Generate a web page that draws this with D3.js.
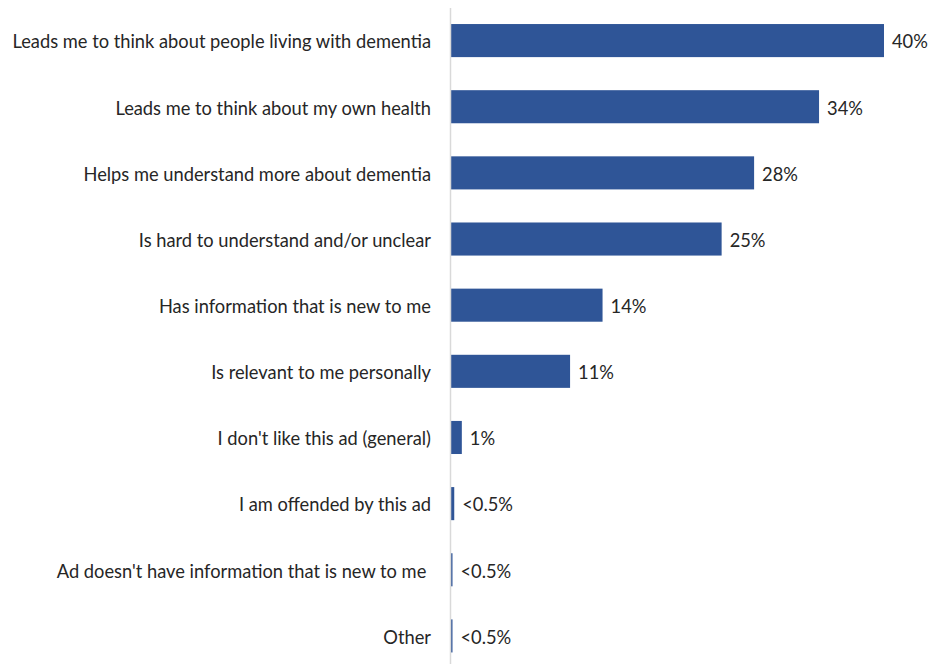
<!DOCTYPE html>
<html>
<head>
<meta charset="utf-8">
<script src="https://cdn.jsdelivr.net/npm/d3@7"></script>
<style>
  html, body { margin: 0; padding: 0; background: #fff; }
  svg { display: block; }
  text { font-family: Lato, "Open Sans", sans-serif; fill: #262626; white-space: pre; }
</style>
</head>
<body>
<svg id="chart" width="930" height="664"></svg>
<script>
// Responses to the ad, share of respondents (%)
const categories = [
  "Leads me to think about people living with dementia",
  "Leads me to think about my own health",
  "Helps me understand more about dementia",
  "Is hard to understand and/or unclear",
  "Has information that is new to me",
  "Is relevant to me personally",
  "I don't like this ad (general)",
  "I am offended by this ad",
  "Ad doesn't have information that is new to me ",
  "Other"
];
const values = [40, 34, 28, 25, 14, 11, 1, 0.3, 0.1, 0.1];
const valueLabels = ["40%", "34%", "28%", "25%", "14%", "11%", "1%", "<0.5%", "<0.5%", "<0.5%"];

const svg = d3.select("#chart");
const axisX = 450.5;
const fontSize = 18.3;

const x = d3.scaleLinear().domain([0, 40]).range([axisX + 0.5, 884]);
const y = d3.scaleBand().domain(categories).range([7.5, 669]).paddingInner(0.5).paddingOuter(0.25);

// Bars
svg.append("g").selectAll("rect")
  .data(values)
  .join("rect")
  .attr("x", x(0))
  .attr("y", (d, i) => y(categories[i]))
  .attr("width", d => Math.max(1.5, x(d) - x(0)))
  .attr("height", y.bandwidth())
  .attr("fill", "#2F5597");

// Vertical category axis line
svg.append("line")
  .attr("x1", axisX).attr("x2", axisX)
  .attr("y1", 8).attr("y2", 664)
  .attr("stroke", "#d9d9d9").attr("stroke-width", 1.5);

// Category labels
svg.append("g").selectAll("text")
  .data(categories)
  .join("text")
  .attr("x", 431)
  .attr("y", d => y(d) + y.bandwidth() / 2)
  .attr("dy", "0.43em")
  .attr("text-anchor", "end")
  .attr("font-size", fontSize)
  .text(d => d);

// Value labels
svg.append("g").selectAll("text")
  .data(values)
  .join("text")
  .attr("x", d => Math.max(1.5, x(d) - x(0)) + x(0) + 8)
  .attr("y", (d, i) => y(categories[i]) + y.bandwidth() / 2)
  .attr("dy", "0.43em")
  .attr("font-size", fontSize)
  .text((d, i) => valueLabels[i]);
</script>
</body>
</html>
